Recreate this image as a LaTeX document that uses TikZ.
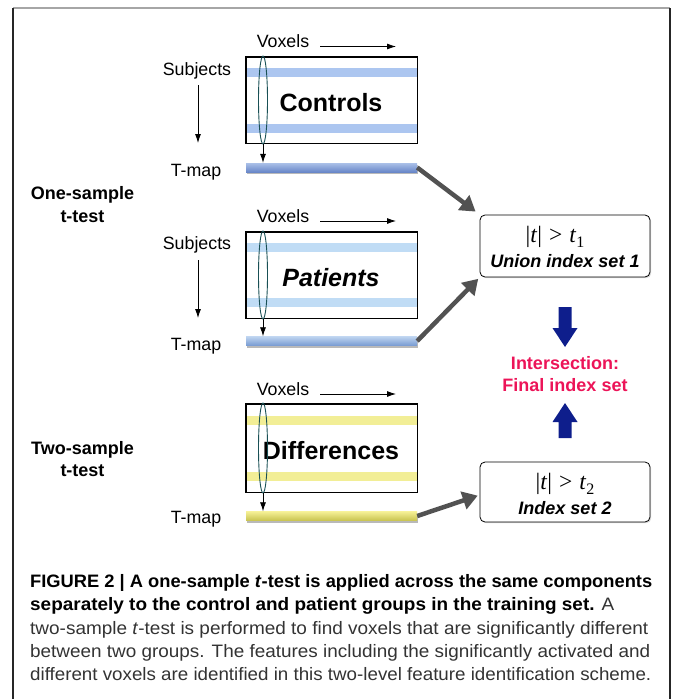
\documentclass[tikz,border=0pt]{standalone}
\usepackage{fontspec}
\usepackage{graphicx}
\setmainfont{Liberation Sans}
\newfontfamily\seriffont{Liberation Serif}
\usetikzlibrary{shadows,arrows.meta}
\definecolor{navyarrow}{RGB}{14,30,140}
\definecolor{crim}{RGB}{236,20,88}
\definecolor{stripeA}{RGB}{172,198,240}
\definecolor{stripeB}{RGB}{192,220,245}
\definecolor{stripeC}{RGB}{242,238,150}
\definecolor{barAtop}{RGB}{170,192,232}
\definecolor{barAbot}{RGB}{105,135,200}
\definecolor{barBtop}{RGB}{190,212,240}
\definecolor{barBbot}{RGB}{120,155,210}
\definecolor{barCtop}{RGB}{245,240,150}
\definecolor{barCbot}{RGB}{200,195,80}
\definecolor{ellcol}{RGB}{25,80,85}
\begin{document}
\begin{tikzpicture}[x=1pt,y=-1pt,
  lbl/.style={inner sep=0pt, text height=12.8pt, text depth=0pt, font=\fontsize{17.8}{20}\selectfont},
  side/.style={inner sep=0pt, text height=12.8pt, text depth=0pt, font=\fontsize{18}{21}\selectfont\bfseries},
  bigtxt/.style={inner sep=0pt, text height=18pt, text depth=0pt, font=\fontsize{25}{28}\selectfont\bfseries},
  databox/.style={draw=black, line width=0.9pt, fill=white, minimum width=171pt, inner sep=0pt,
     drop shadow={shadow xshift=1.2pt, shadow yshift=-1.2pt, opacity=0.35}},
  tbar/.style={minimum width=171pt, minimum height=9pt, inner sep=0pt,
     drop shadow={shadow xshift=0.6pt, shadow yshift=-2.2pt, opacity=0.55}},
  resbox/.style={draw=black, line width=0.8pt, fill=white, rounded corners=5pt,
     minimum width=170pt, inner sep=0pt,
     drop shadow={shadow xshift=1.2pt, shadow yshift=-1.2pt, opacity=0.3}},
  thin/.style={draw=black, line width=0.8pt, -{Latex[length=9pt,width=6pt]}},
  garrow/.style={draw=black!68, line width=4.5pt, -{Triangle[length=15pt,width=18pt]}},
  ell/.style={draw=ellcol, line width=0.9pt},
  restxt/.style={inner sep=0pt, text height=12.8pt, text depth=0pt, font=\fontsize{18}{21}\selectfont\bfseries\itshape},
  mathtxt/.style={inner sep=0pt, anchor=base, font=\seriffont\fontsize{23.5}{26}\selectfont},
  captxt/.style={inner sep=0pt, anchor=base west, font=\fontsize{18}{20}\selectfont},
  blockarrow/.style={fill=navyarrow, draw=none}
]
\useasboundingbox (0,0) rectangle (673,699);

% outer frame
\draw[black!35, line width=1.2pt] (13,8) -- (670,8);
\draw[black!85, line width=1.2pt] (13,8) -- (13,720);
\draw[black!85, line width=1.2pt] (670,8) -- (670,720);

% ================= Controls =================
\node[databox, minimum height=86pt] (ctrl) at (331.5,100) {};
\fill[stripeA] (246.5,68) rectangle (416.5,77);
\fill[stripeA] (246.5,124) rectangle (416.5,133);
\draw[line width=0.9pt] (ctrl.north west) rectangle (ctrl.south east);
\node[bigtxt] (ctrlt) at (331,102) {Controls};
\node[tbar, top color=barAtop, bottom color=barAbot] (bar1) at (331.5,167.5) {};
\node[lbl] (vox1) at (283,41.5) {Voxels};
\coordinate (va1) at (320,46.5);
\coordinate (vb1) at (396,46.5);
\draw[thin] (va1) -- (vb1);
\node[lbl] (sub1) at (197,69) {Subjects};
\coordinate (sa1) at (198,85);
\coordinate (sb1) at (198,143);
\draw[thin] (sa1) -- (sb1);
\node[lbl] (tm1) at (196,170) {T-map};
\draw[ell] (263,100) ellipse [x radius=4.5, y radius=44];
\coordinate (ea1) at (263,144);
\draw[thin] (ea1) -- (bar1.north -| ea1);

% ================= Patients =================
\node[databox, minimum height=86pt] (pat) at (331.5,275) {};
\fill[stripeB] (246.5,243) rectangle (416.5,252);
\fill[stripeB] (246.5,298) rectangle (416.5,307);
\draw[line width=0.9pt] (pat.north west) rectangle (pat.south east);
\node[bigtxt, font=\fontsize{25}{28}\selectfont\bfseries\itshape] (patt) at (331,277) {Patients};
\node[tbar, top color=barBtop, bottom color=barBbot] (bar2) at (331.5,341) {};
\node[lbl] (vox2) at (283,216) {Voxels};
\coordinate (va2) at (320,221);
\coordinate (vb2) at (396,221);
\draw[thin] (va2) -- (vb2);
\node[lbl] (sub2) at (197,243) {Subjects};
\coordinate (sa2) at (198,260);
\coordinate (sb2) at (198,318);
\draw[thin] (sa2) -- (sb2);
\node[lbl] (tm2) at (196,344) {T-map};
\draw[ell] (263,275) ellipse [x radius=4.5, y radius=44];
\coordinate (ea2) at (263,319);
\draw[thin] (ea2) -- (bar2.north -| ea2);

% ================= Differences =================
\node[databox, minimum height=88pt] (dif) at (331.5,448) {};
\fill[stripeC] (246.5,416) rectangle (416.5,425);
\fill[stripeC] (246.5,472) rectangle (416.5,481);
\draw[line width=0.9pt] (dif.north west) rectangle (dif.south east);
\node[bigtxt] (dift) at (331,450) {Differences};
\node[tbar, top color=barCtop, bottom color=barCbot] (bar3) at (331.5,516) {};
\node[lbl] (vox3) at (283,389) {Voxels};
\coordinate (va3) at (320,394);
\coordinate (vb3) at (396,394);
\draw[thin] (va3) -- (vb3);
\node[lbl] (tm3) at (196,517.5) {T-map};
\draw[ell] (263,448) ellipse [x radius=4.5, y radius=45];
\coordinate (ea3) at (263,493);
\draw[thin] (ea3) -- (bar3.north -| ea3);

% ================= side labels =================
\node[side] (os1) at (82.5,193.5) {One-sample};
\node[side] (os2) at (82.5,216) {t-test};
\node[side] (ts1) at (82.5,448) {Two-sample};
\node[side] (ts2) at (82.5,470) {t-test};

% ================= result boxes =================
\node[resbox, minimum height=62pt] (u1) at (565,246) {};
\node[mathtxt] (m1) at (555,242) {|\textit{t}|\hspace{0.3em}>\hspace{0.3em}\textit{t}\raisebox{-0.22em}{\fontsize{16}{16}\selectfont 1}};
\node[restxt] (u1t) at (565,261.5) {Union index set 1};

\node[resbox, minimum height=60pt] (ix2) at (565,492) {};
\node[mathtxt] (m2) at (565,489) {|\textit{t}|\hspace{0.3em}>\hspace{0.3em}\textit{t}\raisebox{-0.22em}{\fontsize{16}{16}\selectfont 2}};
\node[restxt] (ix2t) at (565,508.5) {Index set 2};

\node[side, text=crim] (int1) at (565,363) {Intersection:};
\node[side, text=crim] (int2) at (565,385) {Final index set};

% block arrows
\fill[blockarrow] (558.5,307) -- (571.5,307) -- (571.5,328) -- (577.5,328) -- (565,347) -- (552.5,328) -- (558.5,328) -- cycle;
\fill[blockarrow] (558.5,438) -- (571.5,438) -- (571.5,422) -- (577.5,422) -- (565,403) -- (552.5,422) -- (558.5,422) -- cycle;

% gray arrows
\draw[garrow, shorten >=5pt] (bar1.east) -- (u1.north west);
\draw[garrow, shorten >=2pt] (bar2.east) -- (u1.south west);
\draw[garrow, shorten >=2pt] (bar3.east) -- ([yshift=-3pt]ix2.west);

% ================= caption =================
\node[captxt] (c1) at (30,587) {\resizebox{622pt}{\height}{\bfseries FIGURE 2 | A one-sample \textit{t}-test is applied across the same components}};
\node[captxt] (c2) at (30,610) {\resizebox{584pt}{\height}{\textbf{separately to the control and patient groups in the training set.} \color{black!80}A}};
\node[captxt, text=black!80] (c3) at (30,634) {\resizebox{618pt}{\height}{two-sample \textit{t}-test is performed to find voxels that are significantly different}};
\node[captxt, text=black!80] (c4) at (30,657) {\resizebox{620pt}{\height}{between two groups. The features including the significantly activated and}};
\node[captxt, text=black!80] (c5) at (30,680) {\resizebox{621pt}{\height}{different voxels are identified in this two-level feature identification scheme.}};
\end{tikzpicture}
\end{document}
